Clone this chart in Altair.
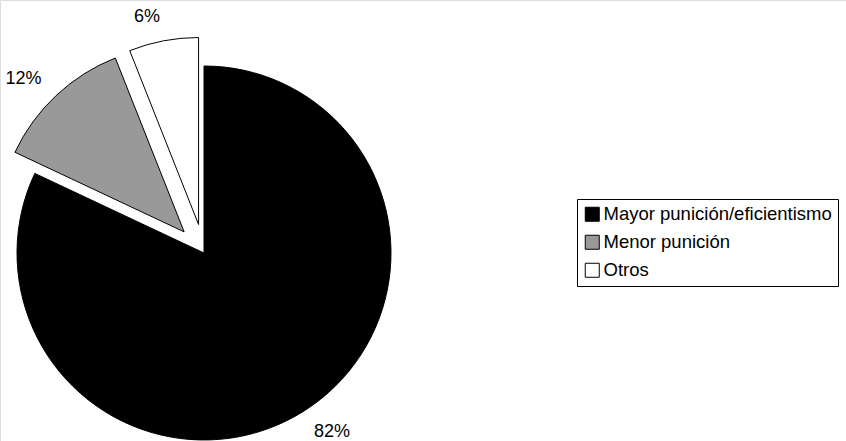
import altair as alt
import pandas as pd

categories = ["Mayor punición/eficientismo", "Menor punición", "Otros"]
shares = [82, 12, 6]
labels = ["82%", "12%", "6%"]
exploded = [False, True, True]
order = [0, 1, 2]

df = pd.DataFrame({"cat": categories, "share": shares, "label": labels,
                   "explode": exploded, "order": order})

CX, CY, R, EXP = 204, 253, 187, 29
GAP, SHIFT = 17, 0.055

base = (
    alt.Chart(df)
    .transform_joinaggregate(total="sum(share)")
    .transform_window(cum="sum(share)", sort=[alt.SortField("order")], frame=[None, 0])
    .transform_calculate(
        t0="2*PI*(datum.cum - datum.share)/datum.total",
        t1="2*PI*datum.cum/datum.total",
    )
    .transform_calculate(mid="(datum.t0 + datum.t1)/2")
    .transform_calculate(
        d=f"datum.explode ? {EXP} : 0",
        ang=f"datum.mid - {SHIFT}",
    )
    .transform_calculate(
        ext="6*length(datum.label)*abs(sin(datum.ang)) + 7*abs(cos(datum.ang))",
        px=f"{CX} + datum.d*sin(datum.mid)",
        py=f"{CY} - datum.d*cos(datum.mid)",
    )
    .transform_calculate(
        lx=f"datum.px + ({R} + {GAP} + datum.ext)*sin(datum.ang)",
        ly=f"datum.py - ({R} + {GAP} + datum.ext)*cos(datum.ang)",
    )
)

arcs = base.mark_arc(radius=R, stroke="black", strokeWidth=1).encode(
    theta=alt.Theta("t0:Q", scale=None, stack=None),
    theta2="t1:Q",
    x=alt.X("px:Q", scale=None, axis=None),
    y=alt.Y("py:Q", scale=None, axis=None),
    color=alt.Color(
        "cat:N",
        scale=alt.Scale(domain=categories, range=["#000000", "#999999", "#ffffff"]),
        sort=categories,
        legend=alt.Legend(
            title=None, orient="none", legendX=577, legendY=199,
            symbolType="square", symbolSize=196,
            symbolStrokeColor="black", symbolStrokeWidth=1,
            labelFont="Liberation Sans", labelFontSize=18.5, labelColor="black",
            labelOffset=2, rowPadding=9, padding=6,
            strokeColor="black", fillColor="white", labelLimit=400,
        ),
    ),
    order=alt.Order("order:Q"),
)

texts = base.mark_text(font="Liberation Sans", fontSize=18, color="black",
                       align="center", baseline="middle").encode(
    x=alt.X("lx:Q", scale=None, axis=None),
    y=alt.Y("ly:Q", scale=None, axis=None),
    text="label:N",
)

chart = (
    alt.layer(arcs, texts)
    .properties(width=846, height=441, autosize=alt.AutoSizeParams(type="none"), padding=0)
    .configure_view(stroke=None)
    .configure(background="white")
)

chart.save("out.html", embed_options={"renderer": "svg", "actions": False})
